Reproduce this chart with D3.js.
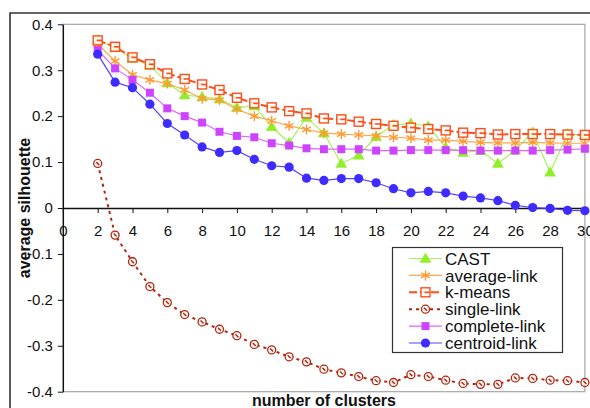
<!DOCTYPE html>
<html>
<head>
<meta charset="utf-8">
<script src="https://cdn.jsdelivr.net/npm/d3@7"></script>
<style>
  html, body { margin: 0; padding: 0; background: #fff; }
  svg { display: block; font-family: "Liberation Sans", Arial, sans-serif; }
</style>
</head>
<body>
<svg id="chart" width="590" height="408"></svg>
<script>
// number of clusters on the x axis
const clusters = [2,3,4,5,6,7,8,9,10,11,12,13,14,15,16,17,18,19,20,21,22,23,24,25,26,27,28,29,30];

// average silhouette per method
const castValues = [0.366,0.349,0.326,0.310,0.272,0.246,0.242,0.237,0.219,0.222,0.177,0.142,0.197,0.163,0.097,0.115,0.155,0.181,0.184,0.178,0.132,0.121,0.125,0.097,0.126,0.165,0.078,0.161,0.159];
const averageLinkValues = [0.357,0.320,0.290,0.279,0.271,0.257,0.238,0.235,0.215,0.200,0.190,0.179,0.171,0.163,0.161,0.159,0.157,0.154,0.152,0.148,0.148,0.145,0.143,0.142,0.142,0.143,0.142,0.141,0.141];
const kMeansValues = [0.365,0.351,0.328,0.313,0.293,0.281,0.269,0.257,0.240,0.228,0.219,0.211,0.206,0.195,0.193,0.188,0.183,0.179,0.175,0.172,0.169,0.164,0.163,0.160,0.161,0.161,0.161,0.160,0.159];
const singleLinkValues = [0.097,-0.059,-0.117,-0.171,-0.206,-0.232,-0.248,-0.264,-0.278,-0.297,-0.309,-0.324,-0.335,-0.351,-0.359,-0.367,-0.376,-0.380,-0.363,-0.367,-0.375,-0.382,-0.384,-0.384,-0.370,-0.371,-0.375,-0.376,-0.380];
const completeLinkValues = [0.344,0.304,0.279,0.251,0.217,0.200,0.186,0.166,0.157,0.154,0.141,0.136,0.130,0.128,0.128,0.128,0.125,0.125,0.126,0.126,0.126,0.126,0.125,0.125,0.125,0.125,0.126,0.127,0.129];
const centroidLinkValues = [0.335,0.274,0.262,0.226,0.184,0.159,0.133,0.121,0.125,0.106,0.092,0.089,0.065,0.060,0.064,0.064,0.055,0.042,0.033,0.036,0.033,0.026,0.022,0.016,0.006,0.001,-0.001,-0.005,-0.006];

// axis ticks
const xTickValues = [0,2,4,6,8,10,12,14,16,18,20,22,24,26,28,30];
const yTickValues = [-0.4,-0.3,-0.2,-0.1,0,0.1,0.2,0.3,0.4];
const yTickLabels = ["-0.4","-0.3","-0.2","-0.1","0","0.1","0.2","0.3","0.4"];

const seriesNames = ["CAST","average-link","k-means","single-link","complete-link","centroid-link"];

const series = [
  { name: seriesNames[0], values: castValues,        line: "#a6f25a", color: "#92ee2a", marker: "triangle", width: 1.2, dash: null },
  { name: seriesNames[1], values: averageLinkValues, line: "#ffa64d", color: "#ff9a33", marker: "asterisk", width: 1.2, dash: null },
  { name: seriesNames[2], values: kMeansValues,      line: "#ff4d1a", color: "#ff4d1a", marker: "openSquare", width: 2, dash: "8,3" },
  { name: seriesNames[3], values: singleLinkValues,  line: "#b3260d", color: "#b3260d", marker: "openCircle", width: 2, dash: "3,4" },
  { name: seriesNames[4], values: completeLinkValues,line: "#dd66ff", color: "#cc44ff", marker: "square", width: 1.2, dash: null },
  { name: seriesNames[5], values: centroidLinkValues,line: "#5544ff", color: "#3d2bff", marker: "circle", width: 1.2, dash: null }
];

const svg = d3.select("#chart");

const x = d3.scaleLinear().domain([0, 30]).range([62.9, 584.9]);
const y = d3.scaleLinear().domain([-0.4, 0.4]).range([391.7, 24.3]);

// outer chart frame
svg.append("path")
  .attr("d", "M10,420 L10,13 L600,13")
  .attr("fill", "none")
  .attr("stroke", "#333")
  .attr("stroke-width", 1.6);

// plot area border
svg.append("rect")
  .attr("x", x(0)).attr("y", y(0.4))
  .attr("width", x(30) - x(0)).attr("height", y(-0.4) - y(0.4))
  .attr("fill", "none")
  .attr("stroke", "#a6a6a6")
  .attr("stroke-width", 1.2);

// y axis
const yAxis = d3.axisLeft(y)
  .tickValues(yTickValues)
  .tickFormat((d, i) => yTickLabels[i])
  .tickSizeInner(5)
  .tickSizeOuter(0)
  .tickPadding(5);
const gy = svg.append("g").attr("transform", `translate(${x(0)},0)`).call(yAxis);
gy.selectAll("text").attr("font-size", 15).attr("fill", "#111").attr("font-family", "Liberation Sans, Arial, sans-serif");
gy.selectAll("line").attr("stroke", "#111");
gy.select(".domain").attr("stroke", "#111").attr("stroke-width", 1.3);

// x axis along zero
const xAxis = d3.axisBottom(x)
  .tickValues(xTickValues)
  .tickFormat(d3.format("d"))
  .tickSizeInner(5)
  .tickSizeOuter(0)
  .tickPadding(12);
const gx = svg.append("g").attr("transform", `translate(0,${y(0)})`).call(xAxis);
gx.selectAll("text").attr("font-size", 15).attr("fill", "#111").attr("font-family", "Liberation Sans, Arial, sans-serif");
gx.selectAll("line").attr("stroke", "#111");
gx.select(".domain").attr("stroke", "#111").attr("stroke-width", 1.3);

// axis titles
svg.append("text")
  .attr("x", (x(0) + x(30)) / 2).attr("y", 406)
  .attr("text-anchor", "middle")
  .attr("font-size", 16).attr("font-weight", "bold").attr("fill", "#111")
  .text("number of clusters");

svg.append("text")
  .attr("transform", `translate(30,${y(0)}) rotate(-90)`)
  .attr("text-anchor", "middle")
  .attr("font-size", 16).attr("font-weight", "bold").attr("fill", "#111")
  .text("average silhouette");

// marker drawing
function drawMarker(g, s, cx, cy) {
  switch (s.marker) {
    case "triangle":
      g.append("path")
        .attr("d", d3.symbol(d3.symbolTriangle, 52)())
        .attr("transform", `translate(${cx},${cy + 0.8})`)
        .attr("fill", s.color).attr("stroke", s.color).attr("stroke-width", 0.5);
      break;
    case "asterisk": {
      const r = 5;
      const d = `M${cx},${cy - r}L${cx},${cy + r}` +
        `M${cx - r * 0.87},${cy - r * 0.5}L${cx + r * 0.87},${cy + r * 0.5}` +
        `M${cx - r * 0.87},${cy + r * 0.5}L${cx + r * 0.87},${cy - r * 0.5}`;
      g.append("path").attr("d", d).attr("stroke", s.color).attr("stroke-width", 1.4).attr("fill", "none");
      break;
    }
    case "openSquare":
      g.append("rect")
        .attr("x", cx - 4.5).attr("y", cy - 4.5).attr("width", 9).attr("height", 9)
        .attr("fill", "#fff").attr("fill-opacity", 0.85)
        .attr("stroke", s.color).attr("stroke-width", 1.4);
      g.append("line")
        .attr("x1", cx - 1).attr("x2", cx + 4.5).attr("y1", cy).attr("y2", cy)
        .attr("stroke", s.color).attr("stroke-width", 1.6);
      break;
    case "openCircle":
      g.append("circle")
        .attr("cx", cx).attr("cy", cy).attr("r", 4)
        .attr("fill", "#fff").attr("fill-opacity", 0.85)
        .attr("stroke", s.color).attr("stroke-width", 1.3);
      g.append("line")
        .attr("x1", cx - 1.5).attr("x2", cx + 1.5).attr("y1", cy - 1.5).attr("y2", cy + 1.5)
        .attr("stroke", s.color).attr("stroke-width", 1.4);
      break;
    case "square":
      g.append("rect")
        .attr("x", cx - 4).attr("y", cy - 4).attr("width", 8).attr("height", 8)
        .attr("fill", s.color);
      break;
    case "circle":
      g.append("circle")
        .attr("cx", cx).attr("cy", cy).attr("r", 4.6)
        .attr("fill", s.color);
      break;
  }
}

const line = d3.line().x(d => x(d[0])).y(d => y(d[1]));

// series lines and markers
series.forEach(s => {
  const pts = clusters.map((c, i) => [c, s.values[i]]);
  const g = svg.append("g");
  g.append("path")
    .attr("d", line(pts))
    .attr("fill", "none")
    .attr("stroke", s.line)
    .attr("stroke-width", s.width)
    .attr("stroke-dasharray", s.dash);
  pts.forEach(p => drawMarker(g, s, x(p[0]), y(p[1])));
});

// legend
const legend = svg.append("g");
legend.append("rect")
  .attr("x", 392.5).attr("y", 247.5).attr("width", 170).attr("height", 105)
  .attr("fill", "#fff").attr("stroke", "#333").attr("stroke-width", 1.2);

series.forEach((s, i) => {
  const cy = 258.5 + i * 16.9;
  const g = legend.append("g");
  g.append("line")
    .attr("x1", 409).attr("x2", 442).attr("y1", cy).attr("y2", cy)
    .attr("stroke", s.line).attr("stroke-width", s.width)
    .attr("stroke-dasharray", s.dash);
  drawMarker(g, s, 425.5, cy);
  g.append("text")
    .attr("x", 445).attr("y", cy).attr("dy", "0.36em")
    .attr("font-size", 17).attr("fill", "#111")
    .text(s.name);
});
</script>
</body>
</html>
